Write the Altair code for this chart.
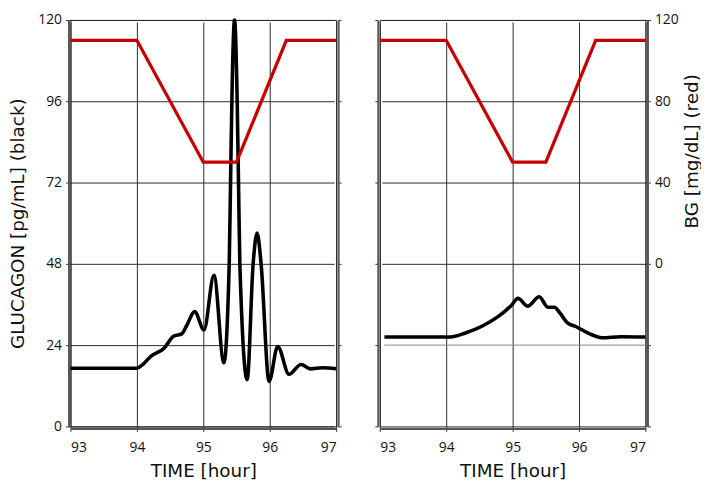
import altair as alt
import pandas as pd

FONT = "Open Sans"
TITLE_FONT = "DejaVu Sans"

# ---- data ----
time_left = [93.0, 94.0, 94.1, 94.21, 94.41, 94.55, 94.68, 94.75, 94.87, 95.01,
             95.16, 95.31, 95.39, 95.41, 95.43, 95.47, 95.51, 95.53, 95.55, 95.66,
             95.75, 95.81, 95.87, 95.99, 96.12, 96.29, 96.47, 96.62, 96.79, 97.0]
glucagon_left = [17.2, 17.2, 18.5, 20.7, 23.1, 26.6, 27.4, 29.8, 33.9, 28.5,
                 44.6, 18.8, 48.0, 72.0, 96.0, 120.0, 96.0, 72.0, 48.0, 13.8,
                 48.0, 57.1, 48.0, 13.3, 23.6, 15.4, 18.3, 17.0, 17.3, 17.0]

time_right = [93.07, 94.06, 94.29, 94.53, 94.78, 94.98, 95.08, 95.23, 95.40, 95.53,
              95.63, 95.70, 95.83, 95.95, 96.13, 96.35, 96.63, 97.0]
glucagon_right = [26.4, 26.4, 27.6, 29.5, 32.4, 35.7, 37.8, 35.5, 38.3, 35.2,
                  35.2, 33.8, 30.5, 29.5, 27.6, 26.2, 26.5, 26.4]

bg_time = [93.0, 94.0, 95.0, 95.5, 96.25, 97.0]
bg_values = [110, 110, 50, 50, 110, 110]

ref_time = [93.07, 97.0]
ref_values = [24, 24]

x_ticks = [93, 93.5, 94, 94.5, 95, 95.5, 96, 96.5, 97]
glucagon_ticks = [0, 24, 48, 72, 96, 120]
bg_ticks = [-80, -40, 0, 40, 80, 120]

df_left = pd.DataFrame({"t": time_left, "g": glucagon_left})
df_right = pd.DataFrame({"t": time_right, "g": glucagon_right})
df_bg = pd.DataFrame({"t": bg_time, "bg": bg_values})
df_ref = pd.DataFrame({"t": ref_time, "g": ref_values})

W, H = 268, 410
RED = "#c40000"

x_axis = alt.Axis(
    values=x_ticks,
    format="d",
    labelExpr="datum.value % 1 === 0 ? datum.label : ''",
    gridOpacity={"condition": {"test": "datum.value % 1 === 0", "value": 1}, "value": 0},
    title="TIME [hour]",
    labelPadding=9,
    titlePadding=8,
)
x_scale = alt.Scale(domain=[93, 97], nice=False, zero=False)
x_enc = alt.X("t:Q", scale=x_scale, axis=x_axis)
x_plain = alt.X("t:Q", scale=x_scale)

# ---- left panel ----
left_gluc = alt.Chart(df_left).mark_line(
    color="black", strokeWidth=3.6, interpolate="monotone"
).encode(
    x=x_enc,
    y=alt.Y("g:Q", scale=alt.Scale(domain=[0, 120], nice=False),
            axis=alt.Axis(orient="left", values=glucagon_ticks, grid=True,
                          title="GLUCAGON [pg/mL] (black)", titlePadding=10)),
)
left_bg = alt.Chart(df_bg).mark_line(color=RED, strokeWidth=3.3).encode(
    x=x_plain,
    y=alt.Y("bg:Q", scale=alt.Scale(domain=[-80, 120], nice=False),
            axis=alt.Axis(orient="right", values=bg_ticks, labels=False, grid=False, title=None)),
)
left = alt.layer(left_gluc, left_bg).resolve_scale(y="independent").properties(width=W, height=H)

# ---- right panel ----
right_ref = alt.Chart(df_ref).mark_line(color="#888888", strokeWidth=1).encode(
    x=x_enc,
    y=alt.Y("g:Q", scale=alt.Scale(domain=[0, 120], nice=False), axis=None),
)
right_gluc = alt.Chart(df_right).mark_line(
    color="black", strokeWidth=3.6, interpolate="monotone"
).encode(
    x=x_plain,
    y=alt.Y("g:Q", scale=alt.Scale(domain=[0, 120], nice=False),
            axis=alt.Axis(orient="left", values=glucagon_ticks, labels=False, grid=False, title=None)),
)
right_bg = alt.Chart(df_bg).mark_line(color=RED, strokeWidth=3.3).encode(
    x=x_plain,
    y=alt.Y("bg:Q", scale=alt.Scale(domain=[-80, 120], nice=False),
            axis=alt.Axis(orient="right", values=bg_ticks,
                          labelExpr="datum.value >= 0 ? datum.label : ''",
                          grid=True,
                          gridOpacity={"condition": {"test": "datum.value >= 0", "value": 1}, "value": 0},
                          title="BG [mg/dL] (red)", titleAngle=270,
                          titleX=44, titleY=132,
                          titleAlign="center", titleBaseline="middle")),
)
right = alt.layer(right_ref, right_gluc, right_bg).resolve_scale(y="independent").properties(width=W, height=H)

chart = alt.hconcat(left, right, spacing=28).properties(
    padding={"top": 2, "left": 0, "right": 0, "bottom": 0}
).configure_view(
    stroke="#222222", strokeWidth=1
).configure_axis(
    labelFont=FONT, titleFont=TITLE_FONT, labelFontSize=14, titleFontSize=18.5,
    titleFontWeight="normal", labelColor="#111111", titleColor="#111111",
    domainColor="#555555", domainWidth=2, offset=2,
    tickColor="#333333", tickSize=3, tickWidth=1,
    gridColor="#2a2a2a", gridWidth=1, gridOpacity=1,
    labelPadding=4, titlePadding=8,
)

chart.save("out.html", embed_options={"renderer": "svg", "actions": False})
